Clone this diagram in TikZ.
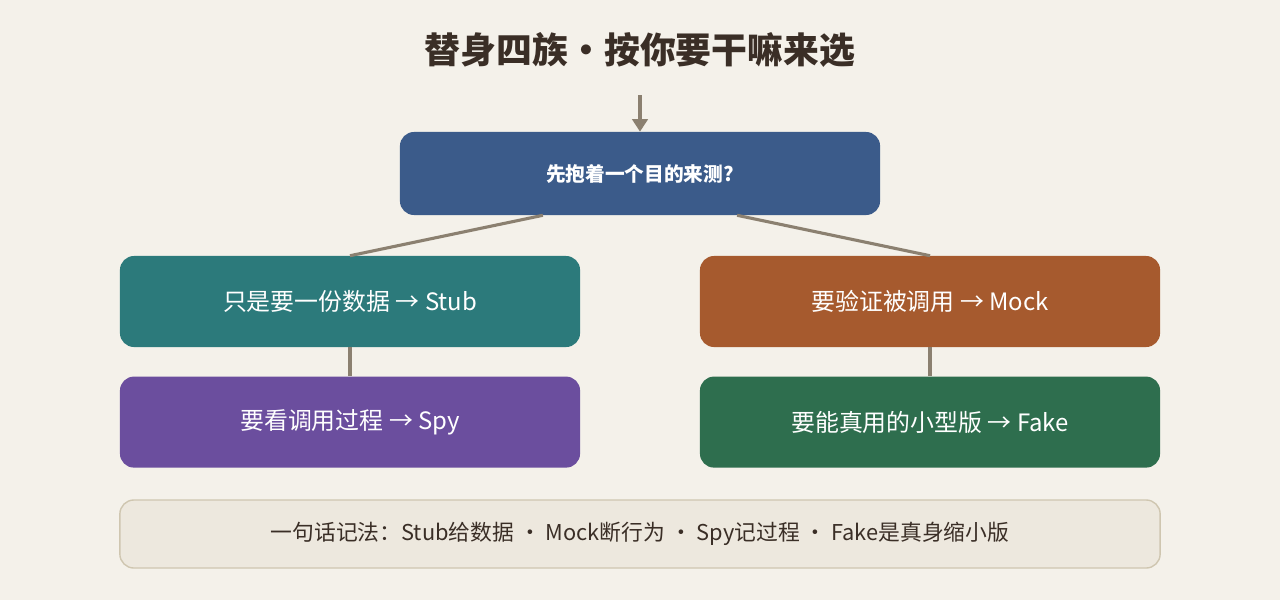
\documentclass[tikz,border=0pt]{standalone}
\usepackage{fontspec}
\setmainfont{Noto Sans CJK SC}
\usepackage{xcolor}
\usetikzlibrary{arrows.meta,positioning,calc}

\definecolor{bgcol}{HTML}{F4F1EA}
\definecolor{linecol}{HTML}{8B8070}
\definecolor{topcol}{HTML}{3B5B8A}
\definecolor{stubcol}{HTML}{2C7A7B}
\definecolor{mockcol}{HTML}{A65A2E}
\definecolor{spycol}{HTML}{6B4E9E}
\definecolor{fakecol}{HTML}{2E6E4E}
\definecolor{notecol}{HTML}{EDE8DE}
\definecolor{noteline}{HTML}{CFC6B0}
\definecolor{textcol}{HTML}{3A2E26}

\begin{document}
\begin{tikzpicture}[x=0.025cm,y=-0.025cm]
            \tikzset{block/.style={rectangle, rounded corners=0.35cm, text=white, minimum width=11.5cm, minimum height=2.275cm, font=\fontsize{17}{20}\selectfont}}
            \tikzset{link/.style={draw=linecol, line width=2.2pt}}

            \fill[bgcol] (0,0) rectangle (1280,600);

            \node [text=textcol, font=\fontsize{25.5}{30}\selectfont\bfseries] (title) at (640,50) {替身四族·按你要干嘛来选};
            \node [block, fill=topcol, minimum width=12cm, minimum height=2.075cm, font=\fontsize{14}{17}\selectfont\bfseries] (goal) at (640,173.5) {先抱着一个目的来测?};
            \node [block, fill=stubcol] (stub) at (350,301.5) {只是要一份数据 → Stub};
            \node [block, fill=mockcol] (mock) at (930,301.5) {要验证被调用 → Mock};
            \node [block, fill=spycol, below = 0.725cm of stub] (spy) {要看调用过程 → Spy};
            \node [block, fill=fakecol, below = 0.725cm of mock] (fake) {要能真用的小型版 → Fake};
            \node [rectangle, rounded corners=0.35cm, draw=noteline, line width=1pt, fill=notecol, text=textcol, minimum width=26cm, minimum height=1.7cm, font=\fontsize{15.5}{18}\selectfont] (note) at (640,534) {一句话记法：Stub给数据 · Mock断行为 · Spy记过程 · Fake是真身缩小版};

            \coordinate (entry) at (640,95);
            \draw [link, -{Triangle[length=9pt,width=11pt]}] (entry) -- (goal.north);
            \draw [link] ($(goal.south)!0.404!(goal.south west)$) -- (stub.north);
            \draw [link] ($(goal.south)!0.404!(goal.south east)$) -- (mock.north);
            \draw [link] (stub) -- (spy);
            \draw [link] (mock) -- (fake);
\end{tikzpicture}
\end{document}
